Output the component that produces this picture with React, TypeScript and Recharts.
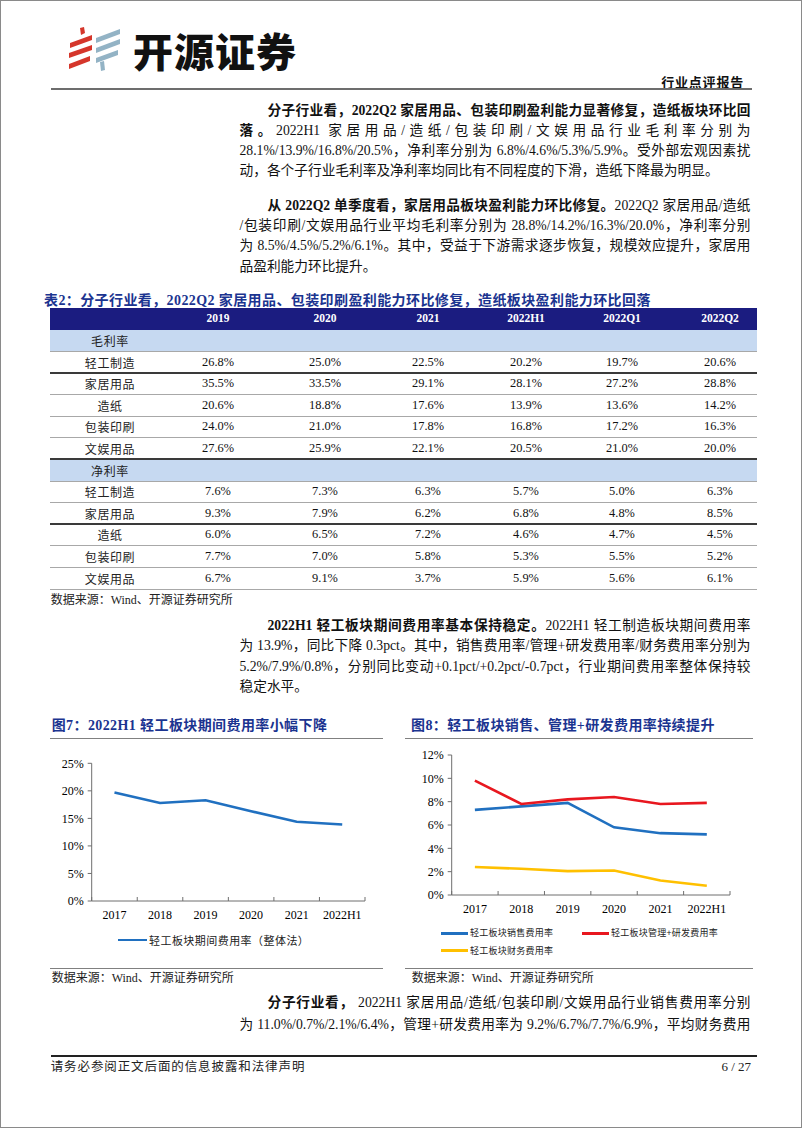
import React from 'react';
import { LineChart, Line, XAxis, YAxis } from 'recharts';

// ---------- data ----------
const years = ['2017', '2018', '2019', '2020', '2021', '2022H1'];
const periodExpenseRate = [19.7, 17.8, 18.3, 16.3, 14.4, 13.9];
const salesExpenseRate = [7.3, 7.6, 7.9, 5.8, 5.3, 5.2];
const mgmtRdExpenseRate = [9.8, 7.8, 8.2, 8.4, 7.8, 7.9];
const financeExpenseRate = [2.4, 2.25, 2.05, 2.1, 1.25, 0.8];
const fig7Ticks = [0, 5, 10, 15, 20, 25];
const fig8Ticks = [0, 2, 4, 6, 8, 10, 12];

const tableHeaders = ['2019', '2020', '2021', '2022H1', '2022Q1', '2022Q2'];
const subIndustries = ['轻工制造', '家居用品', '造纸', '包装印刷', '文娱用品'];
const grossMargin = [
  ['26.8%', '25.0%', '22.5%', '20.2%', '19.7%', '20.6%'],
  ['35.5%', '33.5%', '29.1%', '28.1%', '27.2%', '28.8%'],
  ['20.6%', '18.8%', '17.6%', '13.9%', '13.6%', '14.2%'],
  ['24.0%', '21.0%', '17.8%', '16.8%', '17.2%', '16.3%'],
  ['27.6%', '25.9%', '22.1%', '20.5%', '21.0%', '20.0%'],
];
const netMargin = [
  ['7.6%', '7.3%', '6.3%', '5.7%', '5.0%', '6.3%'],
  ['9.3%', '7.9%', '6.2%', '6.8%', '4.8%', '8.5%'],
  ['6.0%', '6.5%', '7.2%', '4.6%', '4.7%', '4.5%'],
  ['7.7%', '7.0%', '5.8%', '5.3%', '5.5%', '5.2%'],
  ['6.7%', '9.1%', '3.7%', '5.9%', '5.6%', '6.1%'],
];

const fig7Data = years.map((y, i) => ({ year: y, period: periodExpenseRate[i] }));
const fig8Data = years.map((y, i) => ({
  year: y,
  sales: salesExpenseRate[i],
  mgmt: mgmtRdExpenseRate[i],
  finance: financeExpenseRate[i],
}));

// ---------- styles ----------
const SERIF = "'Liberation Serif', 'Times New Roman', serif";
const FONT = "'Liberation Serif', 'Noto Sans CJK SC', serif";
const CJK = "'Noto Sans CJK SC', sans-serif";
const NAVY = '#1b3490';
const AXIS = '#6e6e6e';
const BLUE = '#2070c0';
const RED = '#e8171f';
const YELLOW = '#ffc000';

type Seg = { t: string; b?: boolean };

function TextLine({ y, segs, indent = 0, last = false }: { y: number; segs: Seg[]; indent?: number; last?: boolean }) {
  return (
    <div
      style={{
        position: 'absolute',
        left: 239.5,
        top: y - 10,
        width: 511,
        height: 20,
        lineHeight: '20px',
        fontSize: 13.7,
        color: '#111',
        textAlign: last ? 'left' : 'justify',
        textAlignLast: last ? 'left' : 'justify',
        paddingLeft: indent,
        boxSizing: 'border-box',
        whiteSpace: last ? 'nowrap' : 'normal',
      } as React.CSSProperties}
    >
      {segs.map((s, i) => (
        <span key={i} style={{ fontWeight: s.b ? 700 : 400 }}>{s.t}</span>
      ))}
    </div>
  );
}

function Abs({ left, top, children, style }: any) {
  return <div style={{ position: 'absolute', left, top, whiteSpace: 'nowrap', ...style }}>{children}</div>;
}

const renderXTick = (half: number, count: number) => (props: any) => {
  const { x, y, payload, index } = props;
  return (
    <g>
      <line x1={x - half} x2={x - half} y1={y} y2={y - 4} stroke={AXIS} strokeWidth={1} />
      {index === count - 1 && <line x1={x + half} x2={x + half} y1={y} y2={y - 4} stroke={AXIS} strokeWidth={1} />}
      <text x={x} y={y + 18} textAnchor="middle" fontSize={12} fontFamily={SERIF} fill="#000">
        {payload.value}
      </text>
    </g>
  );
};

// ---------- table ----------
const TABLE_TOP = 308.3;
const ROW_H = 21.6;
const TABLE_LEFT = 50;
const TABLE_W = 707;
const COL_CENTERS = [218, 325, 428, 526, 622, 720];
const LABEL_CENTER = 110;

function Table() {
  type Row = { kind: 'header' | 'section' | 'data'; label?: string; values?: string[] };
  const rows: Row[] = [
    { kind: 'header' },
    { kind: 'section', label: '毛利率' },
    ...subIndustries.map((n, i) => ({ kind: 'data' as const, label: n, values: grossMargin[i] })),
    { kind: 'section', label: '净利率' },
    ...subIndustries.map((n, i) => ({ kind: 'data' as const, label: n, values: netMargin[i] })),
  ];
  const darkBottoms = [2, 6, 9];
  return (
    <>
      {rows.map((r, ri) => {
        const top = TABLE_TOP + ri * ROW_H;
        const bg = r.kind === 'header' ? '#1b1c80' : r.kind === 'section' ? '#c6d9f1' : 'transparent';
        return (
          <div key={ri} style={{ position: 'absolute', left: TABLE_LEFT, top, width: TABLE_W, height: ROW_H, background: bg }}>
            {r.kind === 'header' &&
              tableHeaders.map((h, ci) => (
                <div key={ci} style={{ position: 'absolute', left: COL_CENTERS[ci] - TABLE_LEFT - 50, width: 100, top: 0, height: ROW_H, lineHeight: `${ROW_H}px`, textAlign: 'center', color: '#fff', fontWeight: 700, fontSize: 11.5, fontFamily: SERIF }}>
                  {h}
                </div>
              ))}
            {r.label && (
              <div style={{ position: 'absolute', left: LABEL_CENTER - TABLE_LEFT - 50, width: 100, top: 0, height: ROW_H, lineHeight: `${ROW_H}px`, textAlign: 'center', fontSize: 12, letterSpacing: 0.6, fontFamily: CJK, color: '#222' }}>
                {r.label}
              </div>
            )}
            {r.values &&
              r.values.map((v, ci) => (
                <div key={ci} style={{ position: 'absolute', left: COL_CENTERS[ci] - TABLE_LEFT - 50, width: 100, top: 0, height: ROW_H, lineHeight: `${ROW_H}px`, textAlign: 'center', fontSize: 12.4, fontFamily: SERIF, color: '#111' }}>
                  {v}
                </div>
              ))}
            {ri > 0 && (
              <div
                style={{
                  position: 'absolute',
                  left: 0,
                  width: TABLE_W,
                  top: darkBottoms.includes(ri) ? ROW_H - 1 : ROW_H - 0.5,
                  height: darkBottoms.includes(ri) ? 1.6 : 1,
                  background: darkBottoms.includes(ri) ? '#3a3a3a' : '#a8a8a8',
                }}
              />
            )}
          </div>
        );
      })}
    </>
  );
}

// ---------- charts ----------
function Fig7() {
  return (
    <div style={{ position: 'absolute', left: 40, top: 745 }}>
      <LineChart width={330} height={186} data={fig7Data} margin={{ top: 18.3, right: 5, bottom: 0, left: 0 }}>
        <XAxis
          dataKey="year"
          scale="point"
          interval={0}
          padding={{ left: 22.78, right: 22.78 }}
          axisLine={{ stroke: AXIS, strokeWidth: 1 }}
          tickLine={false}
          tickSize={0}
          tickMargin={0}
          height={30}
          tick={renderXTick(22.78, years.length)}
        />
        <YAxis
          domain={[0, 25]}
          ticks={fig7Ticks}
          interval={0}
          width={51.7}
          axisLine={{ stroke: AXIS, strokeWidth: 1 }}
          tickLine={{ stroke: AXIS }}
          tickSize={4}
          tickMargin={4}
          tick={{ fontSize: 12, fill: '#000', fontFamily: SERIF }}
          tickFormatter={(v: number) => `${v}%`}
        />
        <Line dataKey="period" stroke={BLUE} strokeWidth={2.6} dot={false} type="linear" isAnimationActive={false} />
      </LineChart>
    </div>
  );
}

function Fig8() {
  return (
    <div style={{ position: 'absolute', left: 400, top: 737 }}>
      <LineChart width={335} height={188} data={fig8Data} margin={{ top: 18, right: 5, bottom: 0, left: 0 }}>
        <XAxis
          dataKey="year"
          scale="point"
          interval={0}
          padding={{ left: 23.19, right: 23.19 }}
          axisLine={{ stroke: AXIS, strokeWidth: 1 }}
          tickLine={false}
          tickSize={0}
          tickMargin={0}
          height={30}
          tick={renderXTick(23.19, years.length)}
        />
        <YAxis
          domain={[0, 12]}
          ticks={fig8Ticks}
          interval={0}
          width={51.7}
          axisLine={{ stroke: AXIS, strokeWidth: 1 }}
          tickLine={{ stroke: AXIS }}
          tickSize={4}
          tickMargin={4}
          tick={{ fontSize: 12, fill: '#000', fontFamily: SERIF }}
          tickFormatter={(v: number) => `${v}%`}
        />
        <Line dataKey="sales" stroke={BLUE} strokeWidth={2.6} dot={false} type="linear" isAnimationActive={false} />
        <Line dataKey="mgmt" stroke={RED} strokeWidth={2.6} dot={false} type="linear" isAnimationActive={false} />
        <Line dataKey="finance" stroke={YELLOW} strokeWidth={2.6} dot={false} type="linear" isAnimationActive={false} />
      </LineChart>
    </div>
  );
}

function LegendItem({ x, y, color, label, fontSize, spacing, segW = 29 }: any) {
  return (
    <>
      <div style={{ position: 'absolute', left: x, top: y - 1.3, width: segW, height: 2.6, background: color }} />
      <div style={{ position: 'absolute', left: x + segW + 2, top: y - 8, height: 16, lineHeight: '16px', fontSize, letterSpacing: spacing, fontFamily: CJK, color: '#222', whiteSpace: 'nowrap' }}>
        {label}
      </div>
    </>
  );
}

function Logo() {
  return (
    <svg style={{ position: 'absolute', left: 0, top: 0 }} width={130} height={80}>
      <polygon points="80,28 84,27 85,33 81,35" fill="#d5362b" />
      <polygon points="70,43 92,35 92,40 70,48" fill="#d5362b" />
      <polygon points="69,53 92,45 92,50 69,58" fill="#d5362b" />
      <polygon points="69,64 90,56 90,61 69,69" fill="#d5362b" />
      <polygon points="96,38 120,29 120,34 96,43" fill="#93b3c5" />
      <polygon points="96,48 120,39 120,44 96,53" fill="#93b3c5" />
      <polygon points="96,58 118,50 118,55 96,63" fill="#93b3c5" />
      <polygon points="100,62 104,61 105,70 101,71" fill="#93b3c5" />
    </svg>
  );
}

export default function App() {
  const titleStyle = { fontSize: 14, fontWeight: 700, color: NAVY, lineHeight: '18px', letterSpacing: 0.4 };
  const srcStyle = { fontSize: 12, color: '#222', lineHeight: '16px' };
  return (
    <div style={{ position: 'absolute', left: 0, top: 0, width: 802, height: 1133, background: '#fff', overflow: 'hidden', fontFamily: FONT }}>
      <div style={{ position: 'absolute', left: 0, top: 0, width: 800, height: 1126, border: '1px solid #8a8a8a' }} />
      <Logo />
      <Abs left={133} top={28} style={{ fontFamily: CJK, fontWeight: 900, fontSize: 40, lineHeight: '44px', letterSpacing: 1, color: '#111' }}>开源证券</Abs>
      <div style={{ position: 'absolute', right: 58, top: 73, fontFamily: CJK, fontWeight: 700, fontSize: 13, lineHeight: '18px', letterSpacing: 0.8, color: '#111' }}>行业点评报告</div>
      <div style={{ position: 'absolute', left: 51, top: 88.3, width: 701, height: 2, background: '#6d6d6d' }} />

      <TextLine y={110.7} indent={28} segs={[{ t: '分子行业看，2022Q2 家居用品、包装印刷盈利能力显著修复，造纸板块环比回', b: true }]} />
      <TextLine y={130.9} segs={[{ t: '落。', b: true }, { t: '2022H1 家居用品/造纸/包装印刷/文娱用品行业毛利率分别为' }]} />
      <TextLine y={151.1} segs={[{ t: '28.1%/13.9%/16.8%/20.5%，净利率分别为 6.8%/4.6%/5.3%/5.9%。受外部宏观因素扰' }]} />
      <TextLine y={171.3} last segs={[{ t: '动，各个子行业毛利率及净利率均同比有不同程度的下滑，造纸下降最为明显。' }]} />

      <TextLine y={206} indent={28} segs={[{ t: '从 2022Q2 单季度看，家居用品板块盈利能力环比修复。', b: true }, { t: '2022Q2 家居用品/造纸' }]} />
      <TextLine y={226.2} segs={[{ t: '/包装印刷/文娱用品行业平均毛利率分别为 28.8%/14.2%/16.3%/20.0%，净利率分别' }]} />
      <TextLine y={246.4} segs={[{ t: '为 8.5%/4.5%/5.2%/6.1%。其中，受益于下游需求逐步恢复，规模效应提升，家居用' }]} />
      <TextLine y={266.6} last segs={[{ t: '品盈利能力环比提升。' }]} />

      <Abs left={44} top={292} style={titleStyle}>表2：分子行业看，2022Q2 家居用品、包装印刷盈利能力环比修复，造纸板块盈利能力环比回落</Abs>
      <Table />
      <Abs left={50.7} top={592} style={srcStyle}>数据来源：Wind、开源证券研究所</Abs>

      <TextLine y={626} indent={28} segs={[{ t: '2022H1 轻工板块期间费用率基本保持稳定。', b: true }, { t: '2022H1 轻工制造板块期间费用率' }]} />
      <TextLine y={646.3} segs={[{ t: '为 13.9%，同比下降 0.3pct。其中，销售费用率/管理+研发费用率/财务费用率分别为' }]} />
      <TextLine y={666.6} segs={[{ t: '5.2%/7.9%/0.8%，分别同比变动+0.1pct/+0.2pct/-0.7pct，行业期间费用率整体保持较' }]} />
      <TextLine y={686.9} last segs={[{ t: '稳定水平。' }]} />

      <Abs left={51.7} top={717} style={titleStyle}>图7：2022H1 轻工板块期间费用率小幅下降</Abs>
      <div style={{ position: 'absolute', left: 50, top: 738, width: 333, height: 1, background: '#808080' }} />
      <Abs left={411} top={717} style={titleStyle}>图8：轻工板块销售、管理+研发费用率持续提升</Abs>
      <div style={{ position: 'absolute', left: 405, top: 738, width: 348, height: 1, background: '#808080' }} />

      <Fig7 />
      <Fig8 />

      <LegendItem x={118} y={940} color={BLUE} label="轻工板块期间费用率（整体法）" fontSize={11} spacing={0.45} />
      <LegendItem x={441} y={933.3} color={BLUE} label="轻工板块销售费用率" fontSize={9} spacing={0.25} segW={27} />
      <LegendItem x={582} y={933.3} color={RED} label="轻工板块管理+研发费用率" fontSize={9} spacing={0.25} segW={27} />
      <LegendItem x={441} y={950.7} color={YELLOW} label="轻工板块财务费用率" fontSize={9} spacing={0.25} segW={27} />

      <div style={{ position: 'absolute', left: 50, top: 968, width: 333, height: 1, background: '#808080' }} />
      <div style={{ position: 'absolute', left: 405, top: 968, width: 348, height: 1, background: '#808080' }} />
      <Abs left={51.7} top={970} style={srcStyle}>数据来源：Wind、开源证券研究所</Abs>
      <Abs left={411.7} top={970} style={srcStyle}>数据来源：Wind、开源证券研究所</Abs>

      <TextLine y={1003} indent={28} segs={[{ t: '分子行业看，', b: true }, { t: ' 2022H1 家居用品/造纸/包装印刷/文娱用品行业销售费用率分别' }]} />
      <TextLine y={1024.5} segs={[{ t: '为 11.0%/0.7%/2.1%/6.4%，管理+研发费用率为 9.2%/6.7%/7.7%/6.9%，平均财务费用' }]} />

      <div style={{ position: 'absolute', left: 50.7, top: 1055, width: 706, height: 1.5, background: '#222' }} />
      <Abs left={50.7} top={1059} style={{ fontSize: 12.5, letterSpacing: 0.9, lineHeight: '16px', color: '#222' }}>请务必参阅正文后面的信息披露和法律声明</Abs>
      <div style={{ position: 'absolute', right: 51, top: 1059, fontSize: 13, lineHeight: '16px', color: '#222', fontFamily: SERIF, whiteSpace: 'nowrap' }}>6 / 27</div>
    </div>
  );
}
